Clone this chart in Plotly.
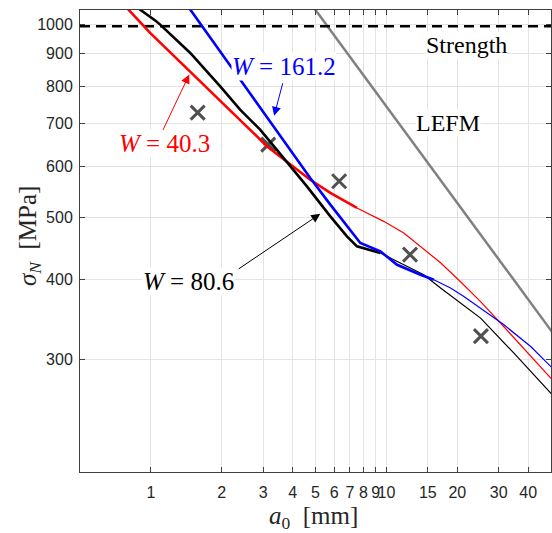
import numpy as np
import plotly.graph_objects as go

# ---------------- data ----------------
# W = 40.3 (red)
red_thick_a = [0.765, 0.990, 2.91, 3.107, 4.75, 5.78, 7.50]
red_thick_s = [1075, 970.5, 661, 645, 572, 545.6, 516.8]
red_thin_a = [7.50, 9.74, 11.85, 14.37, 16.98, 20.65, 25.12, 31.47, 41.0, 50.7]
red_thin_s = [516.8, 492.5, 472.3, 446.4, 424.4, 396.3, 369.0, 337.5, 302.9, 278.5]

# W = 80.6 (black)
blk_thick_a = [0.847, 0.898, 1.05, 1.092, 1.466, 1.966, 2.392, 2.910, 3.656, 4.598, 5.78, 6.80, 7.50, 8.83, 9.43]
blk_thick_s = [1075, 1055, 1012, 1000, 903, 801, 736, 685, 618.8, 558.6, 501.4, 466.7, 450.2, 442.2, 439.5]
blk_thin_a = [9.43, 11.1, 14.41, 16.98, 18.13, 25.12, 34.8, 50.7]
blk_thin_s = [439.5, 426.4, 406.4, 387.6, 380.6, 347.8, 306.6, 263.8]

# W = 161.2 (blue)
blu_thick_a = [1.416, 3.371, 4.75, 5.78, 6.80, 7.75, 9.43, 11.1, 13.95, 15.9]
blu_thick_s = [1075, 685, 575.6, 523, 483.6, 455.7, 442.2, 421.3, 406.4, 399.2]
blu_thin_a = [15.9, 18.72, 21.33, 25.12, 31.56, 41.0, 50.7]
blu_thin_s = [399.2, 387.6, 376.0, 360.6, 339.5, 314.0, 290.5]

# experiments
exp_a = [1.58, 3.15, 6.3, 12.6, 25.2]
exp_s = [728, 649, 569, 437, 326]

# LEFM line and strength
lefm_a = [4.8, 50.5]
lefm_s = [1075, 331]
strength_val = 993
x_lim = [0.5, 50]
y_lim = [200, 1053]

x_ticks = [1, 2, 3, 4, 5, 6, 7, 8, 9, 10, 15, 20, 30, 40]
y_ticks = [300, 400, 500, 600, 700, 800, 900, 1000]

# ---------------- figure ----------------
fig = go.Figure()

fig.add_trace(go.Scatter(x=exp_a, y=exp_s, mode="markers",
                         marker=dict(symbol="x-thin", size=14, line=dict(width=3, color="#505050")),
                         showlegend=False))
fig.add_trace(go.Scatter(x=lefm_a, y=lefm_s, mode="lines",
                         line=dict(color="#808080", width=2.5), showlegend=False))
fig.add_trace(go.Scatter(x=x_lim, y=[strength_val, strength_val], mode="lines",
                         line=dict(color="black", width=2.5, dash="10px,6px"), showlegend=False))

for a, s, c, w in [
    (red_thick_a, red_thick_s, "#ff0000", 2.6), (red_thin_a, red_thin_s, "#ff0000", 1.2),
    (blk_thick_a, blk_thick_s, "#000000", 2.6), (blk_thin_a, blk_thin_s, "#000000", 1.2),
    (blu_thick_a, blu_thick_s, "#0000ff", 2.6), (blu_thin_a, blu_thin_s, "#0000ff", 1.2),
]:
    fig.add_trace(go.Scatter(x=a, y=s, mode="lines", line=dict(color=c, width=w),
                             showlegend=False))

L = np.log10
serif = "Liberation Serif"
ann = []

def label(txt, x, y, color, size):
    ann.append(dict(x=L(x), y=L(y), xref="x", yref="y", text=txt, showarrow=False,
                    xanchor="center", yanchor="middle",
                    font=dict(family=serif, size=size, color=color),
                    bgcolor="white", borderpad=0))

def arrow(x, y, ax, ay, color):
    ann.append(dict(x=L(x), y=L(y), xref="x", yref="y", text="", showarrow=True,
                    ax=ax, ay=ay, axref="pixel", ayref="pixel",
                    arrowhead=2, arrowsize=1.8, arrowwidth=1, arrowcolor=color))

label("Strength", 21.86, 930, "#000000", 24)
label("LEFM", 18.18, 701, "#000000", 24)
label("<i>W</i> = 161.2", 3.68, 860, "#0000ff", 25)
label("<i>W</i> = 40.3", 1.141, 652, "#ff0000", 25)
label("<i>W</i> = 80.6", 1.451, 397, "#000000", 25)

arrow(1.455, 835, -27, 57, "#ff0000")
arrow(3.337, 720, 9, -34, "#0000ff")
arrow(5.238, 506, -83, 56, "#000000")

# axis titles
ann.append(dict(xref="paper", yref="paper", x=(313.5 - 80) / 471, y=(472 - 517) / 462,
                xanchor="center", yanchor="middle",
                text="<i>a</i><sub>0</sub>&nbsp;&nbsp;[mm]", showarrow=False,
                font=dict(family=serif, size=25, color="#262626")))
ann.append(dict(xref="paper", yref="paper", x=(29 - 80) / 471, y=(472 - 236) / 462,
                xanchor="center", yanchor="middle",
                text="<i>σ</i><sub><i>N</i></sub>&nbsp;&nbsp;[MPa]", showarrow=False, textangle=-90,
                font=dict(family=serif, size=25, color="#262626")))

axis_common = dict(type="log", showline=True, linecolor="#404040", linewidth=1,
                   mirror="ticks", ticks="inside", ticklen=5, tickcolor="#404040",
                   showgrid=True, gridcolor="#e3e3e3", gridwidth=1, zeroline=False,
                   tickangle=0,
                   tickfont=dict(family="Liberation Sans", size=16, color="#262626"))

fig.update_xaxes(**axis_common, range=[L(x_lim[0]), L(x_lim[1])],
                 tickvals=x_ticks, ticktext=[str(v) for v in x_ticks], ticklabelstandoff=6)
fig.update_yaxes(**axis_common, range=[L(y_lim[0]), L(y_lim[1])],
                 tickvals=y_ticks, ticktext=[str(v) for v in y_ticks], ticklabelstandoff=3)

fig.update_layout(width=552, height=533, margin=dict(l=80, r=1, t=10, b=61),
                  paper_bgcolor="white", plot_bgcolor="white", annotations=ann,
                  showlegend=False)

fig.write_html("out.html")
